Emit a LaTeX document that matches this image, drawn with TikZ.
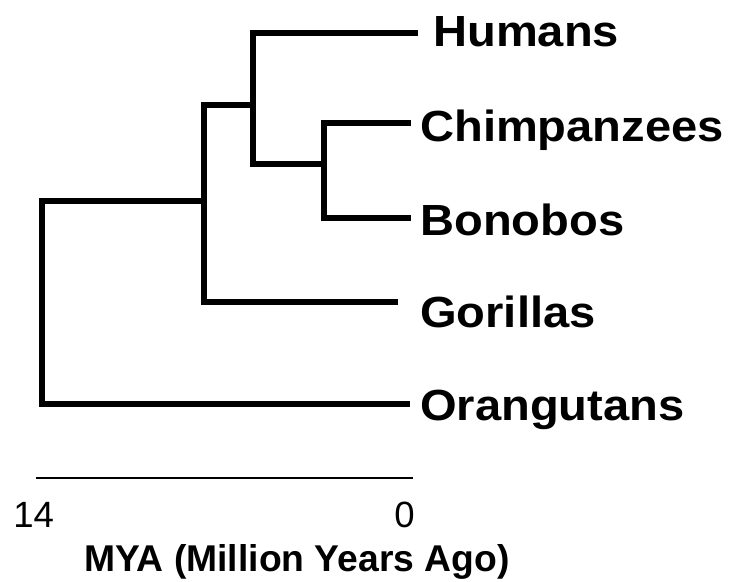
\documentclass[tikz,border=0pt]{standalone}
\usepackage{fontspec}
\setmainfont{Liberation Sans}
\usepackage{graphicx}
\usetikzlibrary{positioning}

\tikzset{
  branch/.style={line width=4.3pt, line join=miter},
  taxon/.style={anchor=base west, inner sep=0pt, font=\bfseries\fontsize{31}{36}\selectfont},
  scalelbl/.style={inner sep=0pt, font=\fontsize{26}{30}\selectfont}
}
\newcommand{\wide}[1]{\scalebox{1.08}[1]{#1}}

\begin{document}
\begin{tikzpicture}[x=0.025cm, y=-0.025cm]
  \useasboundingbox (0,0) rectangle (731,581);

  % taxa
  \node[taxon] (hum) at (433,46) {\wide{Humans}};
  \node[taxon] (chi) at (420,141) {\wide{Chimpanzees}};
  \node[taxon] (bon) at (420,235) {\wide{Bonobos}};
  \node[taxon] (gor) at (420,327) {\wide{Gorillas}};
  \node[taxon] (ora) at (420,420) {\wide{Orangutans}};

  % branch tips
  \coordinate (humtip) at (418,33);
  \coordinate (chitip) at (411,123);
  \coordinate (bontip) at (411,218);
  \coordinate (gortip) at (398,302);
  \coordinate (oratip) at (410,404);

  % inner nodes
  \coordinate (pan) at (324,164);
  \coordinate (homo) at (253,105);
  \coordinate (hom) at (204,201);
  \coordinate (root) at (42,300);

  \draw[branch] (chitip) -| (pan) |- (bontip);
  \draw[branch] (humtip) -| (homo) |- (pan);
  \draw[branch] (homo) -| (hom) |- (gortip);
  \draw[branch] (hom) -| (root) |- (oratip);

  % time scale
  \coordinate (t14) at (36,478);
  \coordinate (t0) at (413,478);
  \draw[line width=1.4pt] (t14) -- (t0);
  \node[scalelbl, anchor=base west] (l14) at (13,527) {14};
  \node[scalelbl, anchor=base east] (l0) at (415,527) {0};
  \node[scalelbl, anchor=base, font=\bfseries\fontsize{26.5}{30}\selectfont] (mya) at (297,571) {MYA (Million Years Ago)};
\end{tikzpicture}
\end{document}
